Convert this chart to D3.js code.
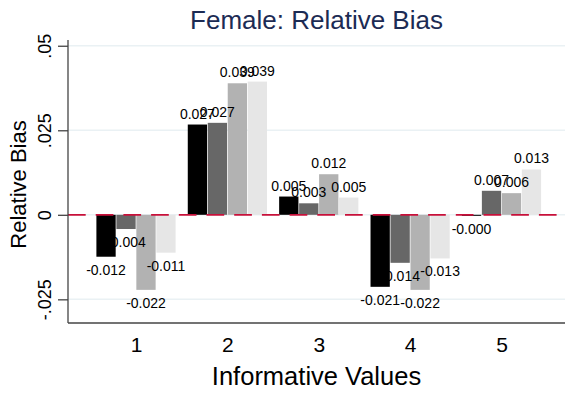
<!DOCTYPE html>
<html>
<head>
<meta charset="utf-8">
<script src="https://cdn.jsdelivr.net/npm/d3@7"></script>
<style>
	body { margin: 0; background: #fff; }
	svg { display: block; font-family: "Liberation Sans", Arial, Helvetica, sans-serif; }
</style>
</head>
<body>
<svg></svg>
<script>
const size = { w: 565, h: 393 };
const plot = { l: 68, r: 565, t: 40, b: 323 };

// data
const categories = ["1", "2", "3", "4", "5"];
const seriesNames = ["s1", "s2", "s3", "s4"];
const s1 = [-0.0124, 0.0267, 0.0054, -0.0213, -0.0003];
const s2 = [-0.0042, 0.0272, 0.0034, -0.0142, 0.0071];
const s3 = [-0.0222, 0.0389, 0.012, -0.0222, 0.0064];
const s4 = [-0.0112, 0.0394, 0.0051, -0.0129, 0.0134];
const yTicks = [0.05, 0.025, 0, -0.025];
const yTickLabels = [".05", ".025", "0", "-.025"];
const barColors = ["#000000", "#676767", "#b2b2b2", "#e6e6e6"];

const allSeries = [s1, s2, s3, s4];

const svg = d3.select("svg").attr("width", size.w).attr("height", size.h);

const x = d3.scalePoint().domain(categories).range([136, 501.5]);
const xInner = d3.scaleBand().domain(seriesNames).range([-39.6, 39.6]).paddingInner(0.035);
const y = d3.scaleLinear().domain([-0.032, 0.0517]).range([plot.b, plot.t]);

// grid lines
svg.append("g").classed("grid", true)
	.selectAll("line")
	.data(yTicks)
	.enter()
	.append("line")
	.attr("x1", plot.l)
	.attr("x2", plot.r)
	.attr("y1", (d) => y(d))
	.attr("y2", (d) => y(d))
	.attr("stroke", "#eaf1f4")
	.attr("stroke-width", 1.5);

// flatten to one record per bar
let bars = [];
categories.forEach(function (c, i) {
	allSeries.forEach(function (s, j) {
		bars.push({ cat: c, series: seriesNames[j], k: j, v: s[i] });
	});
});

const barG = svg.append("g").classed("bars", true);
barG.selectAll("rect")
	.data(bars)
	.enter()
	.append("rect")
	.attr("x", (d) => x(d.cat) + xInner(d.series))
	.attr("width", xInner.bandwidth())
	.attr("y", (d) => Math.min(y(d.v), y(0)))
	.attr("height", (d) => Math.abs(y(d.v) - y(0)))
	.attr("fill", (d) => barColors[d.k]);

// zero reference line
svg.append("line")
	.attr("x1", plot.l)
	.attr("x2", plot.r)
	.attr("y1", y(0))
	.attr("y2", y(0))
	.attr("stroke", "#c8103a")
	.attr("stroke-width", 1.8)
	.attr("stroke-dasharray", "17.7,10");

// bar labels
barG.selectAll("text")
	.data(bars)
	.enter()
	.append("text")
	.attr("x", (d) => x(d.cat) + xInner(d.series) + xInner.bandwidth() / 2)
	.attr("y", (d) => (d.v < 0 ? y(d.v) + 18 : y(d.v) - 6))
	.attr("text-anchor", "middle")
	.attr("font-size", 14)
	.attr("fill", "#000")
	.text((d) => d.v.toFixed(3));

// axes
const yAxis = d3.axisLeft(y)
	.tickValues(yTicks)
	.tickSize(10)
	.tickFormat((d, i) => yTickLabels[i]);

const yG = svg.append("g")
	.attr("transform", `translate(${plot.l},0)`)
	.call(yAxis);
yG.select(".domain").attr("d", `M0,${plot.t}V${plot.b}`).attr("stroke", "#444").attr("stroke-width", 1.3);
yG.selectAll(".tick line").attr("stroke", "#444").attr("stroke-width", 1.3);
yG.selectAll(".tick text")
	.attr("font-size", 18)
	.attr("font-family", null)
	.attr("fill", "#000")
	.attr("text-anchor", "middle")
	.attr("dy", null)
	.attr("x", null)
	.attr("transform", "translate(-17.5,0) rotate(-90)");

const xAxis = d3.axisBottom(x).tickSize(0).tickPadding(29);
const xG = svg.append("g")
	.attr("transform", `translate(0,${plot.b})`)
	.call(xAxis);
xG.select(".domain").attr("d", `M${plot.l},0H${plot.r}`).attr("stroke", "#444").attr("stroke-width", 1.3);
xG.selectAll(".tick text")
	.attr("font-size", 21)
	.attr("font-family", null)
	.attr("fill", "#000")
	.attr("dy", null);

// titles
svg.append("text")
	.attr("x", (plot.l + plot.r) / 2)
	.attr("y", 29)
	.attr("text-anchor", "middle")
	.attr("font-size", 26)
	.attr("fill", "#1c2b54")
	.text("Female: Relative Bias");

svg.append("text")
	.attr("x", (plot.l + plot.r) / 2)
	.attr("y", 385)
	.attr("text-anchor", "middle")
	.attr("font-size", 25.5)
	.attr("fill", "#000")
	.text("Informative Values");

svg.append("text")
	.attr("transform", `translate(26,${(plot.t + plot.b) / 2 + 3}) rotate(-90)`)
	.attr("text-anchor", "middle")
	.attr("font-size", 22)
	.attr("fill", "#000")
	.text("Relative Bias");
</script>
</body>
</html>
